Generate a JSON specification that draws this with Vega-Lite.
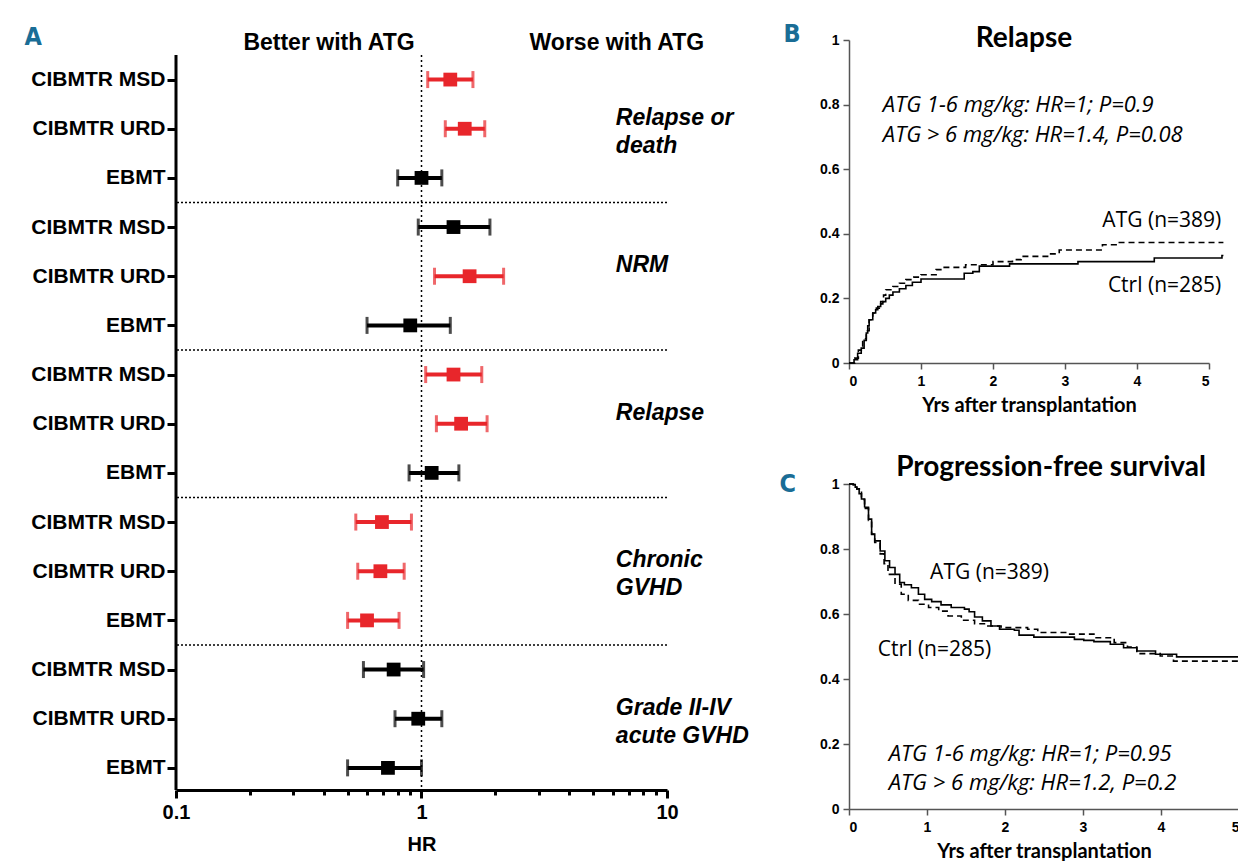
{
  "$schema": "https://vega.github.io/schema/vega-lite/v6.json",
  "background": "white",
  "padding": {"left": 24, "top": 21, "right": 0, "bottom": 0},
  "config": {"view": {"stroke": null}, "font": "Liberation Sans"},
  "datasets": {
    "forest": [
      {"row": 1, "group": "Relapse or death", "source": "CIBMTR MSD", "hr": 1.31, "lo": 1.06, "hi": 1.62, "sig": "yes"},
      {"row": 2, "group": "Relapse or death", "source": "CIBMTR URD", "hr": 1.50, "lo": 1.25, "hi": 1.81, "sig": "yes"},
      {"row": 3, "group": "Relapse or death", "source": "EBMT", "hr": 1.00, "lo": 0.80, "hi": 1.21, "sig": "no"},
      {"row": 4, "group": "NRM", "source": "CIBMTR MSD", "hr": 1.35, "lo": 0.97, "hi": 1.90, "sig": "no"},
      {"row": 5, "group": "NRM", "source": "CIBMTR URD", "hr": 1.57, "lo": 1.13, "hi": 2.16, "sig": "yes"},
      {"row": 6, "group": "NRM", "source": "EBMT", "hr": 0.90, "lo": 0.60, "hi": 1.31, "sig": "no"},
      {"row": 7, "group": "Relapse", "source": "CIBMTR MSD", "hr": 1.35, "lo": 1.04, "hi": 1.76, "sig": "yes"},
      {"row": 8, "group": "Relapse", "source": "CIBMTR URD", "hr": 1.45, "lo": 1.15, "hi": 1.85, "sig": "yes"},
      {"row": 9, "group": "Relapse", "source": "EBMT", "hr": 1.10, "lo": 0.89, "hi": 1.42, "sig": "no"},
      {"row": 10, "group": "Chronic GVHD", "source": "CIBMTR MSD", "hr": 0.69, "lo": 0.54, "hi": 0.91, "sig": "yes"},
      {"row": 11, "group": "Chronic GVHD", "source": "CIBMTR URD", "hr": 0.68, "lo": 0.55, "hi": 0.85, "sig": "yes"},
      {"row": 12, "group": "Chronic GVHD", "source": "EBMT", "hr": 0.60, "lo": 0.50, "hi": 0.81, "sig": "yes"},
      {"row": 13, "group": "Grade II-IV acute GVHD", "source": "CIBMTR MSD", "hr": 0.77, "lo": 0.58, "hi": 1.02, "sig": "no"},
      {"row": 14, "group": "Grade II-IV acute GVHD", "source": "CIBMTR URD", "hr": 0.97, "lo": 0.78, "hi": 1.21, "sig": "no"},
      {"row": 15, "group": "Grade II-IV acute GVHD", "source": "EBMT", "hr": 0.73, "lo": 0.50, "hi": 1.00, "sig": "no"}
    ],
    "groups": [
      {"row": 2, "label": "Relapse or\ndeath"},
      {"row": 5, "label": "NRM"},
      {"row": 8, "label": "Relapse"},
      {"row": 11, "label": "Chronic\nGVHD"},
      {"row": 14, "label": "Grade II-IV\nacute GVHD"}
    ],
    "seps": [{"after": 3.5}, {"after": 6.5}, {"after": 9.5}, {"after": 12.5}],
    "relapse": [
      {"arm": "Ctrl", "t": 0, "p": 0}, {"arm": "Ctrl", "t": 0.03, "p": 0}, {"arm": "Ctrl", "t": 0.07, "p": 0.01},
      {"arm": "Ctrl", "t": 0.12, "p": 0.03}, {"arm": "Ctrl", "t": 0.17, "p": 0.046}, {"arm": "Ctrl", "t": 0.21, "p": 0.07},
      {"arm": "Ctrl", "t": 0.24, "p": 0.093}, {"arm": "Ctrl", "t": 0.26, "p": 0.115}, {"arm": "Ctrl", "t": 0.28, "p": 0.134},
      {"arm": "Ctrl", "t": 0.33, "p": 0.155}, {"arm": "Ctrl", "t": 0.37, "p": 0.165}, {"arm": "Ctrl", "t": 0.40, "p": 0.175},
      {"arm": "Ctrl", "t": 0.44, "p": 0.183}, {"arm": "Ctrl", "t": 0.47, "p": 0.19}, {"arm": "Ctrl", "t": 0.51, "p": 0.20},
      {"arm": "Ctrl", "t": 0.56, "p": 0.21}, {"arm": "Ctrl", "t": 0.61, "p": 0.22}, {"arm": "Ctrl", "t": 0.70, "p": 0.23},
      {"arm": "Ctrl", "t": 0.79, "p": 0.24}, {"arm": "Ctrl", "t": 0.88, "p": 0.25}, {"arm": "Ctrl", "t": 1.0, "p": 0.26},
      {"arm": "Ctrl", "t": 1.60, "p": 0.278}, {"arm": "Ctrl", "t": 1.72, "p": 0.283}, {"arm": "Ctrl", "t": 1.81, "p": 0.30},
      {"arm": "Ctrl", "t": 2.23, "p": 0.307}, {"arm": "Ctrl", "t": 3.18, "p": 0.314}, {"arm": "Ctrl", "t": 4.24, "p": 0.325},
      {"arm": "Ctrl", "t": 5.18, "p": 0.333}, {"arm": "Ctrl", "t": 5.2, "p": 0.333},
      {"arm": "ATG", "t": 0, "p": 0}, {"arm": "ATG", "t": 0.03, "p": 0}, {"arm": "ATG", "t": 0.08, "p": 0.015},
      {"arm": "ATG", "t": 0.13, "p": 0.04}, {"arm": "ATG", "t": 0.19, "p": 0.075}, {"arm": "ATG", "t": 0.24, "p": 0.10},
      {"arm": "ATG", "t": 0.28, "p": 0.134}, {"arm": "ATG", "t": 0.33, "p": 0.155}, {"arm": "ATG", "t": 0.38, "p": 0.17},
      {"arm": "ATG", "t": 0.44, "p": 0.19}, {"arm": "ATG", "t": 0.48, "p": 0.21}, {"arm": "ATG", "t": 0.51, "p": 0.227},
      {"arm": "ATG", "t": 0.61, "p": 0.237}, {"arm": "ATG", "t": 0.70, "p": 0.247}, {"arm": "ATG", "t": 0.79, "p": 0.258},
      {"arm": "ATG", "t": 0.90, "p": 0.266}, {"arm": "ATG", "t": 1.0, "p": 0.273}, {"arm": "ATG", "t": 1.21, "p": 0.289},
      {"arm": "ATG", "t": 1.30, "p": 0.296}, {"arm": "ATG", "t": 1.62, "p": 0.304}, {"arm": "ATG", "t": 2.0, "p": 0.314},
      {"arm": "ATG", "t": 2.27, "p": 0.32}, {"arm": "ATG", "t": 2.39, "p": 0.33}, {"arm": "ATG", "t": 2.78, "p": 0.338},
      {"arm": "ATG", "t": 2.92, "p": 0.35}, {"arm": "ATG", "t": 3.52, "p": 0.366}, {"arm": "ATG", "t": 3.71, "p": 0.373},
      {"arm": "ATG", "t": 5.2, "p": 0.373}
    ],
    "pfs": [
      {"arm": "ATG", "t": 0, "p": 1}, {"arm": "ATG", "t": 0.055, "p": 0.998}, {"arm": "ATG", "t": 0.08, "p": 0.99},
      {"arm": "ATG", "t": 0.10, "p": 0.985}, {"arm": "ATG", "t": 0.13, "p": 0.97}, {"arm": "ATG", "t": 0.16, "p": 0.954},
      {"arm": "ATG", "t": 0.20, "p": 0.928}, {"arm": "ATG", "t": 0.25, "p": 0.892}, {"arm": "ATG", "t": 0.29, "p": 0.846},
      {"arm": "ATG", "t": 0.33, "p": 0.825}, {"arm": "ATG", "t": 0.40, "p": 0.794}, {"arm": "ATG", "t": 0.46, "p": 0.764},
      {"arm": "ATG", "t": 0.52, "p": 0.743}, {"arm": "ATG", "t": 0.59, "p": 0.722}, {"arm": "ATG", "t": 0.65, "p": 0.697},
      {"arm": "ATG", "t": 0.71, "p": 0.69}, {"arm": "ATG", "t": 0.80, "p": 0.681}, {"arm": "ATG", "t": 0.89, "p": 0.661},
      {"arm": "ATG", "t": 0.97, "p": 0.645}, {"arm": "ATG", "t": 1.06, "p": 0.638}, {"arm": "ATG", "t": 1.18, "p": 0.628},
      {"arm": "ATG", "t": 1.31, "p": 0.62}, {"arm": "ATG", "t": 1.48, "p": 0.615}, {"arm": "ATG", "t": 1.54, "p": 0.607},
      {"arm": "ATG", "t": 1.61, "p": 0.591}, {"arm": "ATG", "t": 1.71, "p": 0.579}, {"arm": "ATG", "t": 1.82, "p": 0.563},
      {"arm": "ATG", "t": 1.93, "p": 0.553}, {"arm": "ATG", "t": 2.12, "p": 0.55}, {"arm": "ATG", "t": 2.18, "p": 0.535},
      {"arm": "ATG", "t": 2.37, "p": 0.529}, {"arm": "ATG", "t": 2.89, "p": 0.522}, {"arm": "ATG", "t": 3.01, "p": 0.519},
      {"arm": "ATG", "t": 3.14, "p": 0.515}, {"arm": "ATG", "t": 3.35, "p": 0.507}, {"arm": "ATG", "t": 3.52, "p": 0.496},
      {"arm": "ATG", "t": 3.69, "p": 0.486}, {"arm": "ATG", "t": 3.93, "p": 0.476}, {"arm": "ATG", "t": 4.20, "p": 0.468},
      {"arm": "ATG", "t": 5.0, "p": 0.468},
      {"arm": "Ctrl", "t": 0, "p": 1}, {"arm": "Ctrl", "t": 0.055, "p": 0.998}, {"arm": "Ctrl", "t": 0.10, "p": 0.985},
      {"arm": "Ctrl", "t": 0.16, "p": 0.952}, {"arm": "Ctrl", "t": 0.20, "p": 0.925}, {"arm": "Ctrl", "t": 0.25, "p": 0.888},
      {"arm": "Ctrl", "t": 0.29, "p": 0.845}, {"arm": "Ctrl", "t": 0.33, "p": 0.82}, {"arm": "Ctrl", "t": 0.40, "p": 0.785},
      {"arm": "Ctrl", "t": 0.45, "p": 0.755}, {"arm": "Ctrl", "t": 0.50, "p": 0.722}, {"arm": "Ctrl", "t": 0.59, "p": 0.692},
      {"arm": "Ctrl", "t": 0.67, "p": 0.661}, {"arm": "Ctrl", "t": 0.76, "p": 0.642}, {"arm": "Ctrl", "t": 0.89, "p": 0.63},
      {"arm": "Ctrl", "t": 1.02, "p": 0.62}, {"arm": "Ctrl", "t": 1.15, "p": 0.609}, {"arm": "Ctrl", "t": 1.27, "p": 0.594},
      {"arm": "Ctrl", "t": 1.44, "p": 0.581}, {"arm": "Ctrl", "t": 1.61, "p": 0.57}, {"arm": "Ctrl", "t": 1.78, "p": 0.563},
      {"arm": "Ctrl", "t": 1.95, "p": 0.558}, {"arm": "Ctrl", "t": 2.29, "p": 0.553}, {"arm": "Ctrl", "t": 2.42, "p": 0.543},
      {"arm": "Ctrl", "t": 2.80, "p": 0.538}, {"arm": "Ctrl", "t": 3.14, "p": 0.527}, {"arm": "Ctrl", "t": 3.40, "p": 0.512},
      {"arm": "Ctrl", "t": 3.57, "p": 0.498}, {"arm": "Ctrl", "t": 3.69, "p": 0.478}, {"arm": "Ctrl", "t": 3.99, "p": 0.471},
      {"arm": "Ctrl", "t": 4.16, "p": 0.455}, {"arm": "Ctrl", "t": 5.0, "p": 0.455}
    ]
  },
  "spacing": 30,
  "hconcat": [
    {
      "width": 491,
      "height": 750,
      "layer": [
        {
          "data": {"name": "forest"},
          "mark": {"type": "rule", "strokeWidth": 4},
          "encoding": {
            "x": {
              "field": "lo", "type": "quantitative",
              "scale": {"type": "log", "domain": [0.1, 10], "nice": false},
              "axis": {
                "values": [0.1, 0.2, 0.3, 0.4, 0.5, 0.6, 0.7, 0.8, 0.9, 1, 2, 3, 4, 5, 6, 7, 8, 9, 10],
                "format": "~g", "labelFlush": false, "labelOverlap": false,
                "labelExpr": "indexof([0.1, 1, 10], datum.value) >= 0 ? datum.label : ''",
                "tickSize": {"condition": {"test": "indexof([0.1, 1, 10], datum.value) >= 0", "value": 8}, "value": 5},
                "tickWidth": 3, "tickColor": "black", "domainWidth": 3, "domainColor": "black",
                "labelFontSize": 20, "labelFontWeight": "bold", "labelColor": "black", "labelPadding": 4,
                "title": "HR", "titleFontSize": 20, "titleFontWeight": "bold", "titleColor": "black", "titlePadding": 12,
                "grid": false
              }
            },
            "x2": {"field": "hi"},
            "y": {
              "field": "row", "type": "quantitative",
              "scale": {"domain": [0.195, 15.45], "reverse": true, "nice": false, "zero": false},
              "axis": {
                "values": [1, 2, 3, 4, 5, 6, 7, 8, 9, 10, 11, 12, 13, 14, 15],
                "labelExpr": "['CIBMTR MSD', 'CIBMTR URD', 'EBMT'][(datum.value - 1) % 3]",
                "labelFontSize": 21, "labelFontWeight": "bold", "labelColor": "black", "labelPadding": 2,
                "tickSize": 9, "tickWidth": 3, "tickColor": "black", "domain": false,
                "grid": false,
                "title": "A", "titleAngle": 0, "titleX": -152, "titleY": -4, "titleAlign": "left", "titleBaseline": "middle",
                "titleFont": "DejaVu Sans Condensed", "titleFontSize": 25, "titleFontWeight": "bold", "titleColor": "#1a6d96"
              }
            },
            "color": {"field": "sig", "type": "nominal", "scale": {"domain": ["yes", "no"], "range": ["#e8262b", "#000000"]}, "legend": null}
          }
        },
        {
          "data": {"values": [{}]},
          "mark": {"type": "rule", "strokeWidth": 3, "color": "black"},
          "encoding": {"x": {"datum": 0.1}, "y": {"datum": 0.5}, "y2": {"datum": 15.45}}
        },
        {
          "data": {"values": [{}]},
          "mark": {"type": "rule", "strokeDash": [2, 3], "strokeWidth": 1.5, "color": "black"},
          "encoding": {"x": {"datum": 1}, "y": {"datum": 0.5}, "y2": {"datum": 15.45}}
        },
        {
          "data": {"name": "seps"},
          "mark": {"type": "rule", "strokeDash": [2, 2], "strokeWidth": 1.5, "color": "black"},
          "encoding": {"y": {"field": "after", "type": "quantitative"}}
        },
        {
          "data": {"name": "forest"},
          "mark": {"type": "tick", "orient": "vertical", "size": 17, "thickness": 3},
          "encoding": {
            "x": {"field": "lo", "type": "quantitative"},
            "y": {"field": "row", "type": "quantitative"},
            "color": {"field": "sig", "type": "nominal", "legend": null}
          }
        },
        {
          "data": {"name": "forest"},
          "mark": {"type": "tick", "orient": "vertical", "size": 17, "thickness": 3},
          "encoding": {
            "x": {"field": "hi", "type": "quantitative"},
            "y": {"field": "row", "type": "quantitative"},
            "color": {"field": "sig", "type": "nominal", "legend": null}
          }
        },
        {
          "data": {"name": "forest"},
          "mark": {"type": "point", "shape": "square", "filled": true, "size": 190, "opacity": 1},
          "encoding": {
            "x": {"field": "hr", "type": "quantitative"},
            "y": {"field": "row", "type": "quantitative"},
            "color": {"field": "sig", "type": "nominal", "legend": null}
          }
        },
        {
          "data": {"name": "groups"},
          "mark": {"type": "text", "align": "left", "baseline": "middle", "dy": -11, "fontSize": 23, "fontWeight": "bold", "fontStyle": "italic", "lineBreak": "\n", "lineHeight": 28, "color": "black"},
          "encoding": {
            "x": {"datum": 6.19},
            "y": {"field": "row", "type": "quantitative"},
            "text": {"field": "label", "type": "nominal"}
          }
        },
        {
          "data": {"values": [{}]},
          "mark": {"type": "text", "align": "center", "baseline": "middle", "fontSize": 23, "fontWeight": "bold", "color": "black"},
          "encoding": {"x": {"datum": 0.42}, "y": {"datum": 0.256}, "text": {"value": "Better with ATG"}}
        },
        {
          "data": {"values": [{}]},
          "mark": {"type": "text", "align": "center", "baseline": "middle", "fontSize": 23, "fontWeight": "bold", "color": "black"},
          "encoding": {"x": {"datum": 6.25}, "y": {"datum": 0.256}, "text": {"value": "Worse with ATG"}}
        }
      ]
    },
    {
      "spacing": 39,
      "resolve": {"scale": {"strokeDash": "independent"}},
      "vconcat": [
        {
          "width": 360,
          "height": 323,
          "layer": [
            {
              "data": {"name": "relapse"},
              "mark": {"type": "line", "interpolate": "step-after", "color": "black", "strokeWidth": 1.6},
              "encoding": {
                "x": {
                  "field": "t", "type": "quantitative",
                  "scale": {"domain": [0, 5], "nice": false},
                  "axis": {
                    "values": [0, 1, 2, 3, 4, 5], "format": "~g", "grid": false,
                    "labelFontSize": 14, "labelFontWeight": "bold", "labelColor": "black", "labelPadding": 5,
                    "tickSize": 6, "tickWidth": 1.5, "tickColor": "#555", "domainWidth": 1.5, "domainColor": "#555",
                    "title": "Yrs after transplantation", "titleFont": "Lato", "titleFontSize": 20, "titleFontWeight": "bold",
                    "titleColor": "black", "titlePadding": 7
                  }
                },
                "y": {
                  "field": "p", "type": "quantitative",
                  "scale": {"domain": [0, 1], "nice": false},
                  "axis": {
                    "values": [0, 0.2, 0.4, 0.6, 0.8, 1], "format": "~g", "grid": false,
                    "labelFontSize": 14, "labelFontWeight": "bold", "labelColor": "black", "labelPadding": 4,
                    "tickSize": 6, "tickWidth": 1.5, "tickColor": "#555", "domainWidth": 1.5, "domainColor": "#555",
                    "title": "B", "titleAngle": 0, "titleX": -66, "titleY": -7, "titleAlign": "left", "titleBaseline": "middle",
                    "titleFont": "DejaVu Sans Condensed", "titleFontSize": 25, "titleFontWeight": "bold", "titleColor": "#1a6d96"
                  }
                },
                "strokeDash": {"field": "arm", "type": "nominal", "scale": {"domain": ["ATG", "Ctrl"], "range": [[6, 4], [1, 0]]}, "legend": null}
              }
            },
            {
              "data": {"values": [{}]},
              "mark": {"type": "text", "align": "center", "baseline": "middle", "font": "Lato", "fontSize": 28, "fontWeight": "bold", "color": "black"},
              "encoding": {"x": {"datum": 2.43}, "y": {"datum": 1.003}, "text": {"value": "Relapse"}}
            },
            {
              "data": {"values": [{}]},
              "mark": {"type": "text", "align": "left", "baseline": "middle", "font": "Open Sans", "fontSize": 22, "fontStyle": "italic", "color": "black"},
              "encoding": {"x": {"datum": 0.47}, "y": {"datum": 0.8}, "text": {"value": "ATG 1-6 mg/kg: HR=1; P=0.9"}}
            },
            {
              "data": {"values": [{}]},
              "mark": {"type": "text", "align": "left", "baseline": "middle", "font": "Open Sans", "fontSize": 22, "fontStyle": "italic", "color": "black"},
              "encoding": {"x": {"datum": 0.47}, "y": {"datum": 0.705}, "text": {"value": "ATG > 6 mg/kg: HR=1.4, P=0.08"}}
            },
            {
              "data": {"values": [{}]},
              "mark": {"type": "text", "align": "right", "baseline": "middle", "font": "Open Sans", "fontSize": 21, "color": "black"},
              "encoding": {"x": {"datum": 5.17}, "y": {"datum": 0.44}, "text": {"value": "ATG (n=389)"}}
            },
            {
              "data": {"values": [{}]},
              "mark": {"type": "text", "align": "right", "baseline": "middle", "font": "Open Sans", "fontSize": 21, "color": "black"},
              "encoding": {"x": {"datum": 5.17}, "y": {"datum": 0.238}, "text": {"value": "Ctrl (n=285)"}}
            }
          ]
        },
        {
          "width": 390,
          "height": 325,
          "layer": [
            {
              "data": {"name": "pfs"},
              "mark": {"type": "line", "interpolate": "step-after", "color": "black", "strokeWidth": 1.6},
              "encoding": {
                "x": {
                  "field": "t", "type": "quantitative",
                  "scale": {"domain": [0, 5], "nice": false},
                  "axis": {
                    "values": [0, 1, 2, 3, 4, 5], "format": "~g", "grid": false,
                    "labelFontSize": 14, "labelFontWeight": "bold", "labelColor": "black", "labelPadding": 5,
                    "tickSize": 6, "tickWidth": 1.5, "tickColor": "#555", "domainWidth": 1.5, "domainColor": "#555",
                    "title": "Yrs after transplantation", "titleFont": "Lato", "titleFontSize": 20, "titleFontWeight": "bold",
                    "titleColor": "black", "titlePadding": 7
                  }
                },
                "y": {
                  "field": "p", "type": "quantitative",
                  "scale": {"domain": [0, 1], "nice": false},
                  "axis": {
                    "values": [0, 0.2, 0.4, 0.6, 0.8, 1], "format": "~g", "grid": false,
                    "labelFontSize": 14, "labelFontWeight": "bold", "labelColor": "black", "labelPadding": 4,
                    "tickSize": 6, "tickWidth": 1.5, "tickColor": "#555", "domainWidth": 1.5, "domainColor": "#555",
                    "title": "C", "titleAngle": 0, "titleX": -70, "titleY": -1, "titleAlign": "left", "titleBaseline": "middle",
                    "titleFont": "DejaVu Sans Condensed", "titleFontSize": 25, "titleFontWeight": "bold", "titleColor": "#1a6d96"
                  }
                },
                "strokeDash": {"field": "arm", "type": "nominal", "scale": {"domain": ["ATG", "Ctrl"], "range": [[1, 0], [6, 4]]}, "legend": null}
              }
            },
            {
              "data": {"values": [{}]},
              "mark": {"type": "text", "align": "center", "baseline": "middle", "font": "Lato", "fontSize": 28, "fontWeight": "bold", "color": "black"},
              "encoding": {"x": {"datum": 2.59}, "y": {"datum": 1.049}, "text": {"value": "Progression-free survival"}}
            },
            {
              "data": {"values": [{}]},
              "mark": {"type": "text", "align": "left", "baseline": "middle", "font": "Open Sans", "fontSize": 22, "fontStyle": "italic", "color": "black"},
              "encoding": {"x": {"datum": 0.51}, "y": {"datum": 0.17}, "text": {"value": "ATG 1-6 mg/kg: HR=1; P=0.95"}}
            },
            {
              "data": {"values": [{}]},
              "mark": {"type": "text", "align": "left", "baseline": "middle", "font": "Open Sans", "fontSize": 22, "fontStyle": "italic", "color": "black"},
              "encoding": {"x": {"datum": 0.51}, "y": {"datum": 0.08}, "text": {"value": "ATG > 6 mg/kg: HR=1.2, P=0.2"}}
            },
            {
              "data": {"values": [{}]},
              "mark": {"type": "text", "align": "left", "baseline": "middle", "font": "Open Sans", "fontSize": 21, "color": "black"},
              "encoding": {"x": {"datum": 1.04}, "y": {"datum": 0.726}, "text": {"value": "ATG (n=389)"}}
            },
            {
              "data": {"values": [{}]},
              "mark": {"type": "text", "align": "left", "baseline": "middle", "font": "Open Sans", "fontSize": 21, "color": "black"},
              "encoding": {"x": {"datum": 0.37}, "y": {"datum": 0.49}, "text": {"value": "Ctrl (n=285)"}}
            }
          ]
        }
      ]
    }
  ]
}
